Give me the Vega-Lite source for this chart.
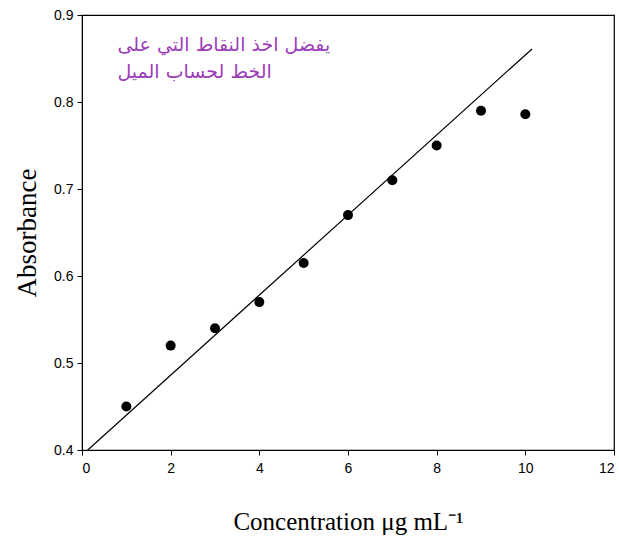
{
  "$schema": "https://vega.github.io/schema/vega-lite/v6.json",
  "width": 532,
  "height": 435,
  "autosize": {"type": "none"},
  "padding": {"left": 82, "top": 15, "right": 5, "bottom": 96},
  "background": "white",
  "config": {
    "view": {"stroke": "black", "strokeWidth": 1.2},
    "axis": {
      "grid": false,
      "domainColor": "black",
      "tickColor": "black",
      "tickSize": 5,
      "labelFont": "Liberation Sans",
      "labelFontSize": 14,
      "labelColor": "black",
      "titleFont": "Liberation Serif",
      "titleFontWeight": "normal",
      "titleColor": "black"
    }
  },
  "datasets": {
    "points": [
      {"conc": 1, "abs": 0.45},
      {"conc": 2, "abs": 0.52},
      {"conc": 3, "abs": 0.54},
      {"conc": 4, "abs": 0.57},
      {"conc": 5, "abs": 0.615},
      {"conc": 6, "abs": 0.67},
      {"conc": 7, "abs": 0.71},
      {"conc": 8, "abs": 0.75},
      {"conc": 9, "abs": 0.79},
      {"conc": 10, "abs": 0.786}
    ],
    "fit": [
      {"conc": 0.13, "abs": 0.4},
      {"conc": 10.15, "abs": 0.861}
    ],
    "note": [
      {"conc": 0.8, "abs": 0.866, "text": "يفضل اخذ النقاط التي على"},
      {"conc": 0.8, "abs": 0.834, "text": "الخط لحساب الميل"}
    ]
  },
  "layer": [
    {
      "data": {"name": "fit"},
      "mark": {"type": "line", "color": "black", "strokeWidth": 1.2},
      "encoding": {
        "x": {"field": "conc", "type": "quantitative"},
        "y": {"field": "abs", "type": "quantitative"}
      }
    },
    {
      "data": {"name": "points"},
      "mark": {"type": "point", "filled": true, "color": "black", "opacity": 1, "size": 100},
      "encoding": {
        "x": {
          "field": "conc", "type": "quantitative",
          "scale": {"domain": [0, 12], "nice": false},
          "axis": {"values": [0, 2, 4, 6, 8, 10, 12], "title": "Concentration μg mL⁻¹", "titleFontSize": 25, "titlePadding": 34, "labelPadding": 6}
        },
        "y": {
          "field": "abs", "type": "quantitative",
          "scale": {"domain": [0.4, 0.9], "nice": false, "zero": false},
          "axis": {"values": [0.4, 0.5, 0.6, 0.7, 0.8, 0.9], "format": ".1f", "title": "Absorbance", "titleFontSize": 27, "titlePadding": 12, "labelPadding": 4}
        }
      }
    },
    {
      "data": {"name": "note"},
      "mark": {"type": "text", "align": "left", "baseline": "middle", "color": "#9c3db8", "font": "DejaVu Sans", "fontSize": 19},
      "encoding": {
        "x": {"field": "conc", "type": "quantitative"},
        "y": {"field": "abs", "type": "quantitative"},
        "text": {"field": "text"}
      }
    }
  ]
}
